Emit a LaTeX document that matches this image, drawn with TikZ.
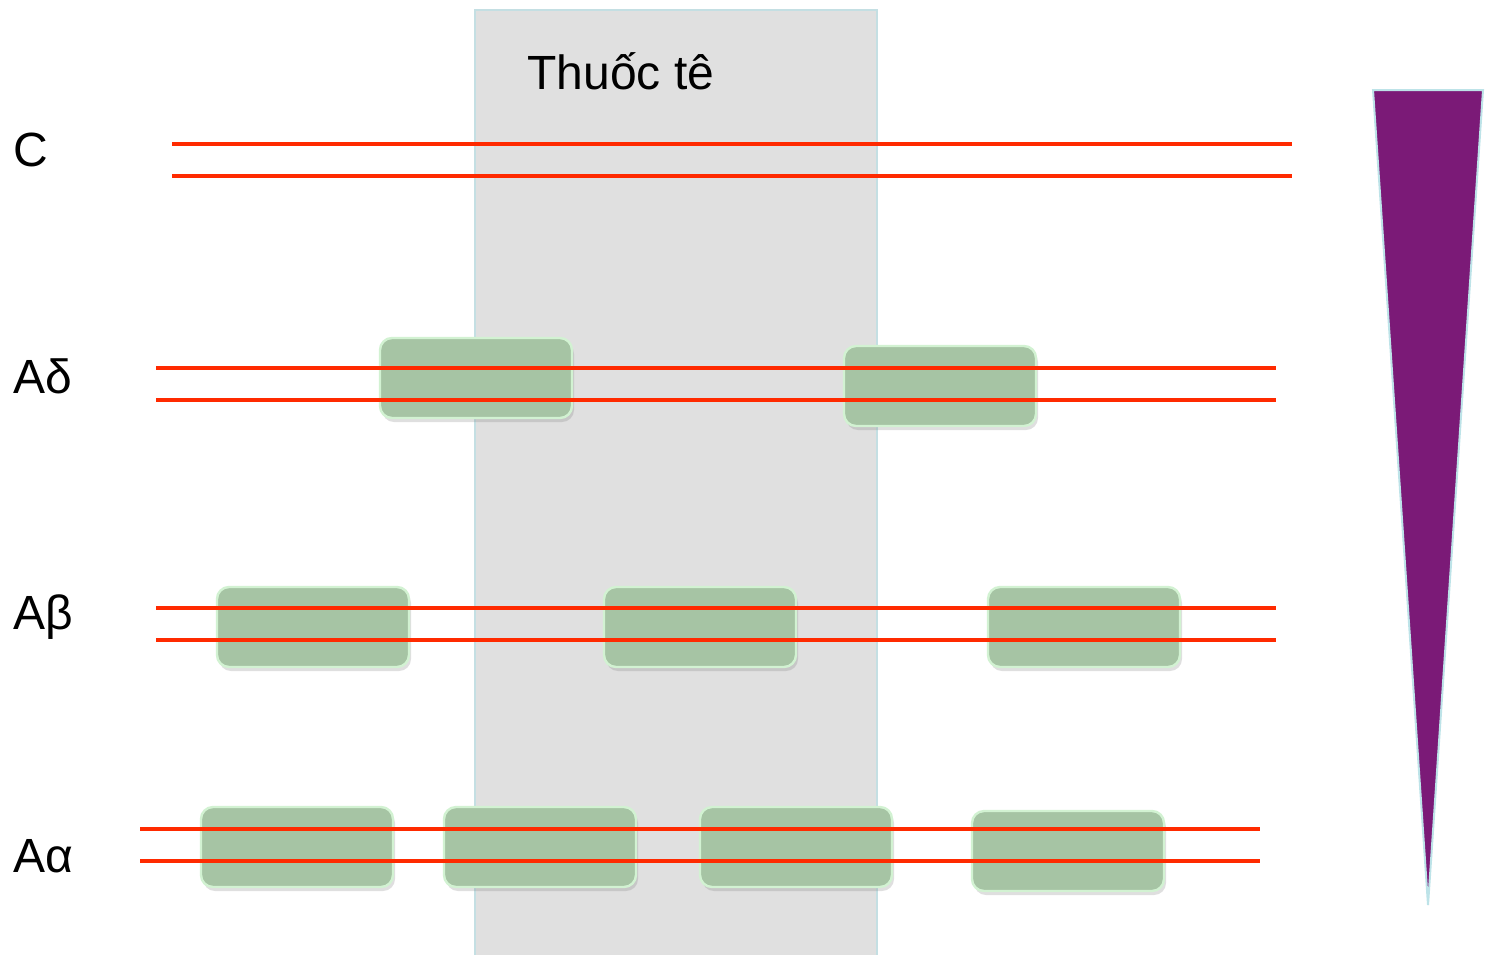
\documentclass[tikz,border=0pt]{standalone}
\usepackage{fontspec}
\setmainfont{Liberation Sans}
\usetikzlibrary{shadows}
\definecolor{grayband}{HTML}{E0E0E0}
\definecolor{bandedge}{HTML}{C4DFE3}
\definecolor{boxfill}{HTML}{A6C4A4}
\definecolor{boxedge}{HTML}{D2F2D2}
\definecolor{nerve}{HTML}{FF2A00}
\definecolor{wedge}{HTML}{7B1A77}
\definecolor{wedgeedge}{HTML}{BDE3E8}
\tikzset{
  sheath/.style={draw=boxedge, line width=1.2pt, fill=boxfill, rounded corners=6pt,
    minimum width=96pt, minimum height=40pt, inner sep=0pt,
    drop shadow={shadow xshift=1pt, shadow yshift=-2pt, opacity=0.25}},
  fiber/.style={draw=nerve, line width=2.4pt},
  lbl/.style={font=\fontsize{24}{28}\selectfont, anchor=west, inner sep=0pt}
}
\begin{document}
\begin{tikzpicture}[x=0.5pt, y=-0.5pt]
\useasboundingbox (0,0) rectangle (1486,954);
% anaesthetic band
\filldraw[fill=grayband, draw=bandedge, line width=0.8pt] (475,10) rectangle (877,960);
\node[font=\fontsize{24}{28}\selectfont, anchor=base west, inner sep=0pt] (drug) at (527,89) {Thuốc tê};
% labels
\node[lbl] (lC) at (13,150) {C};
\node[lbl] (lD) at (13,376) {Aδ};
\node[lbl] (lB) at (13,617) {Aβ};
\node[lbl] (lA) at (13,856) {Aα};
% myelin sheaths
\node[sheath] (d1) at (476,378) {};
\node[sheath] (d2) at (940,386) {};
\node[sheath] (b1) at (313,627) {};
\node[sheath] (b2) at (700,627) {};
\node[sheath] (b3) at (1084,627) {};
\node[sheath] (a1) at (297,847) {};
\node[sheath] (a2) at (540,847) {};
\node[sheath] (a3) at (796,847) {};
\node[sheath] (a4) at (1068,851) {};
% fibers
\draw[fiber] (172,144) -- (1292,144);
\draw[fiber] (172,176) -- (1292,176);
\draw[fiber] (156,368) -- (1276,368);
\draw[fiber] (156,400) -- (1276,400);
\draw[fiber] (156,608) -- (1276,608);
\draw[fiber] (156,640) -- (1276,640);
\draw[fiber] (140,829) -- (1260,829);
\draw[fiber] (140,861) -- (1260,861);
% wedge
\filldraw[fill=wedge, draw=wedgeedge, line width=1pt] (1373,90) -- (1483,90) -- (1428,905) -- cycle;
\end{tikzpicture}
\end{document}
